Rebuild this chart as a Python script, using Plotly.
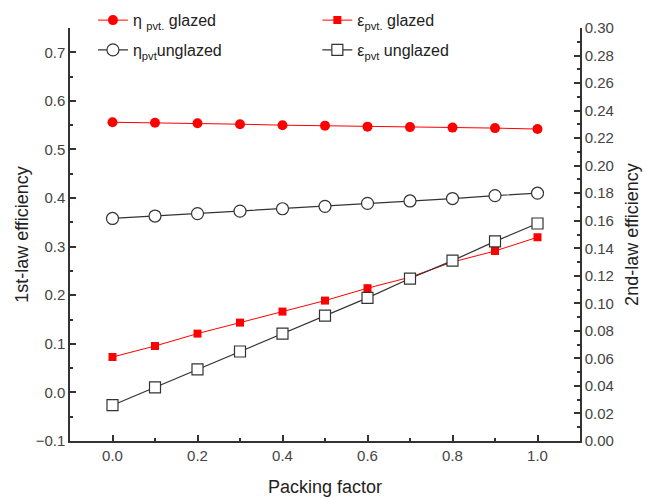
import plotly.graph_objects as go

# Packing factor values
packing_factor = [0.0, 0.1, 0.2, 0.3, 0.4, 0.5, 0.6, 0.7, 0.8, 0.9, 1.0]

# 1st-law (thermal) efficiency, left axis
eta_glazed = [0.556, 0.555, 0.554, 0.552, 0.550, 0.549, 0.547, 0.546, 0.545, 0.544, 0.542]
eta_unglazed = [0.358, 0.363, 0.368, 0.373, 0.378, 0.383, 0.389, 0.394, 0.399, 0.405, 0.410]

# 2nd-law (exergy) efficiency, right axis
eps_glazed = [0.061, 0.069, 0.078, 0.086, 0.094, 0.102, 0.111, 0.119, 0.130, 0.138, 0.148]
eps_unglazed = [0.026, 0.039, 0.052, 0.065, 0.078, 0.091, 0.104, 0.118, 0.131, 0.145, 0.158]

RED = "#ff0000"
DARK = "#333333"
FONT = "Liberation Sans, Arial, sans-serif"

fig = go.Figure()

fig.add_trace(go.Scatter(
    x=packing_factor, y=eta_glazed, mode="lines+markers",
    name="η <sub>pvt.</sub> glazed", legend="legend", legendgroup="a",
    line=dict(color=RED, width=1),
    marker=dict(symbol="circle", size=10, color=RED, line=dict(width=0)),
))
fig.add_trace(go.Scatter(
    x=packing_factor, y=eps_glazed, mode="lines+markers", yaxis="y2",
    name="ε<sub>pvt.</sub> glazed", legend="legend2", legendgroup="c",
    line=dict(color=RED, width=1),
    marker=dict(symbol="square", size=8, color=RED, line=dict(width=0)),
))
fig.add_trace(go.Scatter(
    x=packing_factor, y=eta_unglazed, mode="lines+markers",
    name="η<sub>pvt</sub>unglazed", legend="legend", legendgroup="b",
    line=dict(color=DARK, width=1.2),
    marker=dict(symbol="circle", size=12, color="white", line=dict(color=DARK, width=1.2)),
))
fig.add_trace(go.Scatter(
    x=packing_factor, y=eps_unglazed, mode="lines+markers", yaxis="y2",
    name="ε<sub>pvt</sub> unglazed", legend="legend2", legendgroup="d",
    line=dict(color=DARK, width=1.2),
    marker=dict(symbol="square", size=11, color="white", line=dict(color=DARK, width=1.2)),
))

axis_common = dict(
    showline=True, linecolor=DARK, linewidth=1.5,
    ticks="inside", ticklen=6, tickwidth=1.5, tickcolor=DARK,
    showgrid=False, zeroline=False,
    tickfont=dict(family=FONT, size=15, color="#444444"),
    title_font=dict(family=FONT, size=18, color="#222222"),
)

fig.update_layout(
    width=649, height=499,
    margin=dict(l=70, r=69, t=28, b=58, autoexpand=False),
    paper_bgcolor="white", plot_bgcolor="white",
    font=dict(family=FONT, color="#222222"),
    xaxis=dict(
        range=[-0.1, 1.1], dtick=0.2, tick0=0, tickformat=".1f",
        minor=dict(dtick=0.1, tick0=0, ticks="inside", ticklen=3, tickcolor=DARK),
        title=dict(text="Packing factor", standoff=18),
        **axis_common,
    ),
    yaxis=dict(
        range=[-0.1, 0.75], dtick=0.1, tick0=0, tickformat=".1f",
        minor=dict(dtick=0.05, tick0=0, ticks="inside", ticklen=3, tickcolor=DARK),
        title=dict(text="1st-law efficiency", standoff=2),
        **axis_common,
    ),
    yaxis2=dict(
        range=[0, 0.30], dtick=0.02, tick0=0, tickformat=".2f",
        minor=dict(dtick=0.01, tick0=0, ticks="inside", ticklen=3, tickcolor=DARK),
        overlaying="y", side="right",
        title=dict(text="2nd-law efficiency", standoff=12),
        **axis_common,
    ),
    legend=dict(
        x=0.045, y=1.06, xanchor="left", yanchor="top",
        bgcolor="rgba(0,0,0,0)", tracegroupgap=6, itemwidth=30,
        font=dict(family=FONT, size=16, color="#222222"),
    ),
    legend2=dict(
        x=0.485, y=1.06, xanchor="left", yanchor="top",
        bgcolor="rgba(0,0,0,0)", tracegroupgap=6, itemwidth=30,
        font=dict(family=FONT, size=16, color="#222222"),
    ),
)

fig.write_html("out.html")
